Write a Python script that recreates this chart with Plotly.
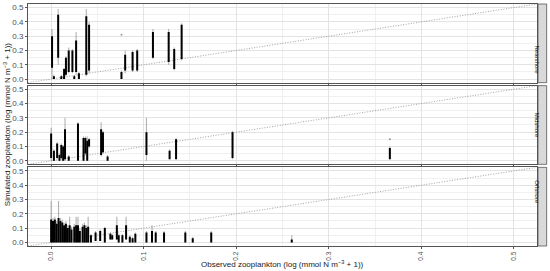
import plotly.graph_objects as go
from plotly.subplots import make_subplots

# ---- data ----
zonas = ["Nearshore", "Midshore", "Offshore"]

# Nearshore: observed value, dense range, and sparse tail range of simulated values
near_obs = [0.001, 0.003, 0.0076, 0.011, 0.014, 0.016, 0.019, 0.023, 0.025, 0.027, 0.030,
            0.038, 0.041, 0.076, 0.080, 0.088, 0.093, 0.110, 0.127, 0.133, 0.141]
near_lo = [0.08, 0.0, 0.15, 0.0, 0.0, 0.03, 0.05, 0.05, 0.0, 0.05, 0.0,
           0.03, 0.06, 0.0, 0.06, 0.06, 0.06, 0.15, 0.12, 0.07, 0.14]
near_hi = [0.30, 0.02, 0.45, 0.02, 0.07, 0.15, 0.20, 0.20, 0.02, 0.27, 0.04,
           0.44, 0.38, 0.05, 0.17, 0.19, 0.20, 0.33, 0.33, 0.21, 0.38]
near_tail_lo = [0.0, 0.0, 0.10, 0.0, 0.0, 0.02, 0.04, 0.04, 0.0, 0.03, 0.0,
                0.02, 0.04, 0.0, 0.04, 0.05, 0.05, 0.14, 0.10, 0.06, 0.13]
near_tail_hi = [0.35, 0.03, 0.49, 0.03, 0.08, 0.16, 0.22, 0.21, 0.03, 0.33, 0.05,
                0.49, 0.40, 0.06, 0.20, 0.20, 0.21, 0.35, 0.35, 0.22, 0.39]
near_out_x = [0.076]
near_out_y = [0.31]

# Midshore
mid_obs = [0.0, 0.003, 0.0065, 0.009, 0.011, 0.013, 0.015, 0.019, 0.029, 0.035, 0.037,
           0.039, 0.041, 0.054, 0.056, 0.061, 0.103, 0.128, 0.135, 0.196, 0.366]
mid_lo = [0.02, 0.0, 0.02, 0.0, 0.02, 0.0, 0.01, 0.0, 0.0, 0.0, 0.05,
          0.0, 0.10, 0.04, 0.06, 0.0, 0.04, 0.01, 0.01, 0.02, 0.01]
mid_hi = [0.19, 0.07, 0.12, 0.04, 0.11, 0.10, 0.22, 0.03, 0.26, 0.16, 0.16,
          0.14, 0.15, 0.22, 0.20, 0.03, 0.20, 0.07, 0.15, 0.20, 0.09]
mid_tail_lo = [0.0, 0.0, 0.01, 0.0, 0.01, 0.0, 0.0, 0.0, 0.0, 0.0, 0.04,
               0.0, 0.09, 0.03, 0.05, 0.0, 0.0, 0.01, 0.01, 0.01, 0.01]
mid_tail_hi = [0.23, 0.08, 0.13, 0.05, 0.12, 0.11, 0.30, 0.04, 0.27, 0.17, 0.17,
               0.17, 0.16, 0.27, 0.21, 0.04, 0.30, 0.08, 0.16, 0.21, 0.10]
mid_out_x = [0.366]
mid_out_y = [0.15]

# Offshore
off_obs = [0.0, 0.002, 0.004, 0.006, 0.008, 0.010, 0.012, 0.014, 0.016, 0.018, 0.020,
           0.022, 0.025, 0.027, 0.029, 0.031, 0.034, 0.036, 0.038, 0.040, 0.043,
           0.048, 0.053, 0.058, 0.064, 0.066, 0.071, 0.073, 0.077, 0.081, 0.085,
           0.088, 0.091, 0.103, 0.109, 0.113, 0.122, 0.145, 0.153, 0.173, 0.260]
off_lo = [0.0, 0.0, 0.0, 0.0, 0.0, 0.0, 0.0, 0.0, 0.0, 0.0, 0.0,
          0.0, 0.0, 0.0, 0.0, 0.0, 0.0, 0.0, 0.0, 0.0, 0.0,
          0.01, 0.01, 0.0, 0.02, 0.02, 0.02, 0.0, 0.0, 0.02, 0.0,
          0.0, 0.0, 0.0, 0.0, 0.0, 0.0, 0.0, 0.0, 0.0, 0.0]
off_hi = [0.16, 0.15, 0.16, 0.13, 0.17, 0.15, 0.14, 0.12, 0.13, 0.10, 0.12,
          0.09, 0.11, 0.12, 0.12, 0.08, 0.11, 0.12, 0.10, 0.11, 0.05,
          0.07, 0.08, 0.10, 0.06, 0.05, 0.12, 0.05, 0.05, 0.12, 0.04,
          0.03, 0.06, 0.07, 0.08, 0.07, 0.07, 0.07, 0.03, 0.07, 0.02]
off_tail_hi = [0.29, 0.17, 0.18, 0.15, 0.29, 0.17, 0.16, 0.14, 0.15, 0.12, 0.18,
               0.11, 0.13, 0.18, 0.18, 0.10, 0.13, 0.14, 0.12, 0.18, 0.06,
               0.08, 0.09, 0.11, 0.07, 0.06, 0.18, 0.06, 0.06, 0.18, 0.05,
               0.04, 0.07, 0.08, 0.12, 0.08, 0.08, 0.08, 0.04, 0.08, 0.05]
off_out_x = []
off_out_y = []

ticks = [0.0, 0.1, 0.2, 0.3, 0.4, 0.5]
tick_text = ["0.0", "0.1", "0.2", "0.3", "0.4", "0.5"]
one_to_one = [-0.025, 0.525]


def segmentos(xs, lo, hi):
    sx, sy = [], []
    for x, a, b in zip(xs, lo, hi):
        sx += [x, x, None]
        sy += [a, b, None]
    return sx, sy


paneles = [
    (near_obs, near_lo, near_hi, near_tail_lo, near_tail_hi, near_out_x, near_out_y),
    (mid_obs, mid_lo, mid_hi, mid_tail_lo, mid_tail_hi, mid_out_x, mid_out_y),
    (off_obs, off_lo, off_hi, off_lo, off_tail_hi, off_out_x, off_out_y),
]

fig = make_subplots(rows=3, cols=1, shared_xaxes=True, vertical_spacing=0.0124)

for i, (obs, lo, hi, tlo, thi, ox, oy) in enumerate(paneles, start=1):
    # 1:1 reference line
    fig.add_trace(go.Scatter(x=one_to_one, y=one_to_one, mode="lines",
                             line=dict(color="#8a8a8a", width=0.8, dash="1px,1.6px"),
                             hoverinfo="skip"), row=i, col=1)
    tx, ty = segmentos(obs, tlo, thi)
    fig.add_trace(go.Scatter(x=tx, y=ty, mode="lines",
                             line=dict(color="rgba(0,0,0,0.3)", width=1.1)), row=i, col=1)
    dx, dy = segmentos(obs, lo, hi)
    fig.add_trace(go.Scatter(x=dx, y=dy, mode="lines",
                             line=dict(color="black", width=2)), row=i, col=1)
    if ox:
        fig.add_trace(go.Scatter(x=ox, y=oy, mode="markers",
                                 marker=dict(color="rgba(0,0,0,0.4)", size=2)), row=i, col=1)

fig.update_xaxes(range=[-0.025, 0.525], tickvals=ticks, ticktext=tick_text,
                 showgrid=True, gridcolor="#e3e3e3", gridwidth=0.8,
                 minor=dict(dtick=0.05, tick0=0.05, showgrid=True, gridcolor="#f0f0f0", gridwidth=0.5),
                 showline=True, linecolor="#555555", linewidth=1, mirror=True,
                 ticks="outside", ticklen=2, tickcolor="#555555", zeroline=False,
                 tickangle=-90, tickfont=dict(size=6.5, color="#4d4d4d"),
                 automargin=False)
fig.update_yaxes(range=[-0.025, 0.525], tickvals=ticks, ticktext=tick_text,
                 showgrid=True, gridcolor="#e3e3e3", gridwidth=0.8,
                 minor=dict(dtick=0.05, tick0=0.05, showgrid=True, gridcolor="#f0f0f0", gridwidth=0.5),
                 showline=True, linecolor="#555555", linewidth=1, mirror=True,
                 ticks="outside", ticklen=2, tickcolor="#555555", zeroline=False,
                 tickfont=dict(size=8, color="#4d4d4d"), automargin=False)

# strip labels on the right
for i, nombre in enumerate(zonas, start=1):
    dom = fig.layout["yaxis" if i == 1 else f"yaxis{i}"].domain
    fig.add_shape(type="rect", xref="paper", yref="paper", x0=1.002, x1=1.019,
                  y0=dom[0], y1=dom[1], fillcolor="#d9d9d9",
                  line=dict(color="#555555", width=0.8))
    fig.add_annotation(text=nombre, xref="paper", yref="paper", x=1.0105,
                       y=(dom[0] + dom[1]) / 2, showarrow=False, textangle=90,
                       font=dict(size=6, color="#1a1a1a"))

fig.add_annotation(text="Observed zooplankton (log (mmol N m<sup>−3</sup> + 1))",
                   xref="paper", yref="paper", x=0.5, y=-0.075, yanchor="middle",
                   showarrow=False, font=dict(size=8, color="#1a1a1a"))
fig.add_annotation(text="Simulated zooplankton (log (mmol N m<sup>−3</sup> + 1))",
                   xref="paper", yref="paper", x=-0.041, y=0.5, xanchor="center",
                   showarrow=False, textangle=-90, font=dict(size=8, color="#1a1a1a"))

fig.update_layout(width=550, height=271, showlegend=False,
                  margin=dict(l=28, r=13, t=4, b=25),
                  plot_bgcolor="white", paper_bgcolor="white",
                  font=dict(family="Liberation Sans, Arial, sans-serif"))

# quitar el margen por defecto del <body> para que la figura empiece en (0, 0)
fig.write_html("out.html", config={"displayModeBar": False},
               post_script="document.body.style.margin='0';")
